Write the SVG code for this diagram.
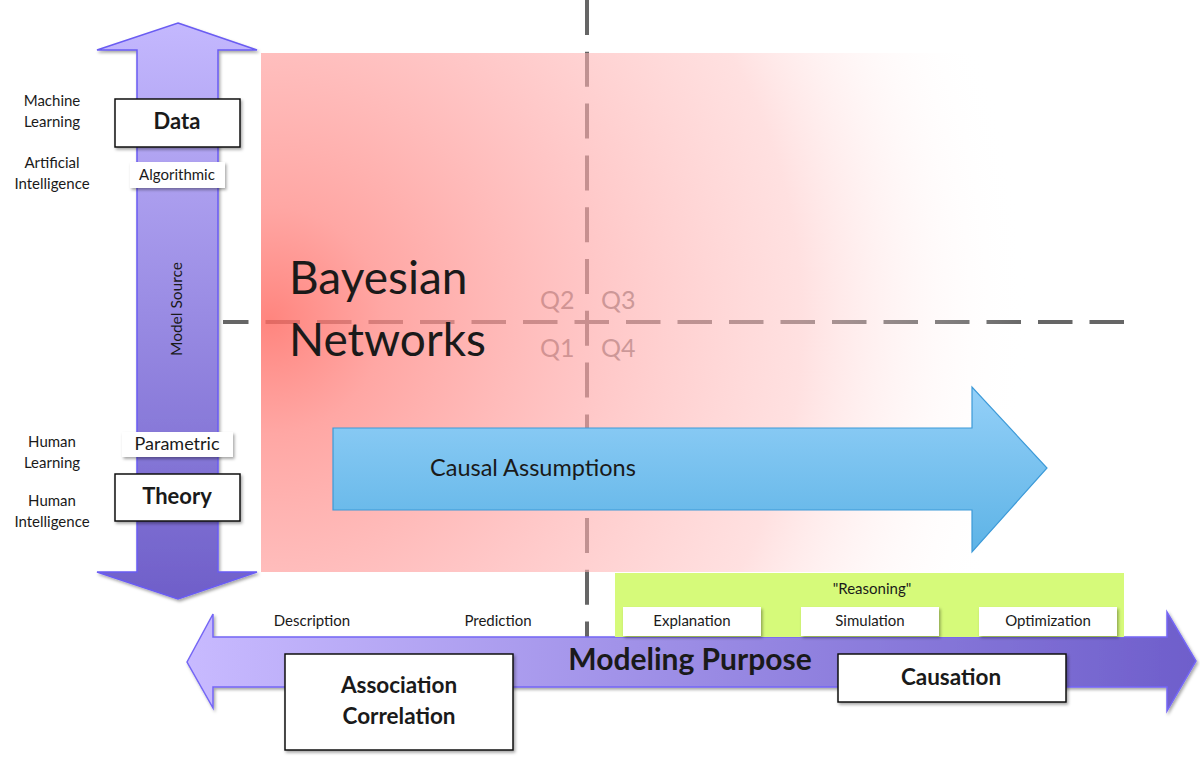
<svg xmlns="http://www.w3.org/2000/svg" width="1200" height="758" viewBox="0 0 1200 758">
<style>
text{font-family:"Lato","Noto Sans","Liberation Sans",sans-serif;fill:#1a1a1a}
.lbl{font-size:15px;text-anchor:middle}
.box{fill:#fff;stroke:#111;stroke-width:1.5}
.tag{fill:#fff}
.bold{font-weight:bold;text-anchor:middle}
.dash{stroke:#666;stroke-width:4;fill:none}
.q{font-size:25px;fill:#7a7a7a}
</style>
<defs>
<filter id="sh" x="-10%" y="-10%" width="130%" height="140%"><feDropShadow dx="1.5" dy="2" stdDeviation="1.5" flood-color="#000" flood-opacity="0.35"/></filter>
<radialGradient id="red" gradientUnits="userSpaceOnUse" cx="270" cy="320" r="760">
<stop offset="0" stop-color="#ff6a62" stop-opacity="0.82"/>
<stop offset="0.15" stop-color="#ff8884" stop-opacity="0.74"/>
<stop offset="0.42" stop-color="#ffa6a6" stop-opacity="0.64"/>
<stop offset="0.7" stop-color="#ffc2c2" stop-opacity="0.5"/>
<stop offset="1" stop-color="#ffffff" stop-opacity="0"/>
</radialGradient>
<linearGradient id="vgrad" x1="0" y1="0" x2="0" y2="1"><stop offset="0" stop-color="#c4b8fe"/><stop offset="1" stop-color="#6f5fc9"/></linearGradient>
<linearGradient id="hgrad" x1="0" y1="0" x2="1" y2="0"><stop offset="0" stop-color="#c8baff"/><stop offset="1" stop-color="#6e5ecb"/></linearGradient>
<linearGradient id="bgrad" x1="0" y1="0" x2="0" y2="1"><stop offset="0" stop-color="#94d0f8"/><stop offset="1" stop-color="#5db3e6"/></linearGradient>
</defs>

<g id="connectors">
<line class="dash" x1="587" y1="0" x2="587" y2="638" stroke-dasharray="35 16.8"/>
<line class="dash" x1="223" y1="322" x2="1126" y2="322" stroke-dasharray="34.5 17" stroke-dashoffset="9"/>
</g>

<g id="quadrants">
<text class="q" x="540" y="309">Q2</text>
<text class="q" x="601" y="309">Q3</text>
<text class="q" x="540" y="357">Q1</text>
<text class="q" x="601" y="357">Q4</text>
</g>

<g id="bayesian">
<rect x="261" y="53" width="800" height="519" fill="url(#red)"/>
<text x="289" y="294" style="font-size:46px">Bayesian</text>
<text x="289" y="356" style="font-size:46px">Networks</text>
</g>

<g id="model-source">
<path d="M178,23 L257,50 L218,50 L218,572 L257,572 L178,599 L97,572 L137,572 L137,50 L97,50 Z" fill="url(#vgrad)" stroke="#6a5cf2" stroke-width="1.5" filter="url(#sh)"/>
<text transform="translate(182,309) rotate(-90)" style="font-size:15.5px;text-anchor:middle">Model Source</text>
</g>

<g id="side-labels">
<text class="lbl" x="52" y="106">Machine</text>
<text class="lbl" x="52" y="127">Learning</text>
<text class="lbl" x="52" y="168">Artificial</text>
<text class="lbl" x="52" y="189">Intelligence</text>
<text class="lbl" x="52" y="447">Human</text>
<text class="lbl" x="52" y="468">Learning</text>
<text class="lbl" x="52" y="506">Human</text>
<text class="lbl" x="52" y="527">Intelligence</text>
</g>

<g id="data">
<rect class="box" x="115" y="99" width="125" height="48" filter="url(#sh)"/>
<text class="bold" x="177" y="129" style="font-size:22px">Data</text>
</g>
<g id="algorithmic">
<rect class="tag" x="130" y="162" width="95" height="26" filter="url(#sh)"/>
<text class="lbl" x="177" y="180">Algorithmic</text>
</g>
<g id="parametric">
<rect class="tag" x="122" y="432" width="111" height="25" filter="url(#sh)"/>
<text x="177" y="450" style="font-size:18px;text-anchor:middle">Parametric</text>
</g>
<g id="theory">
<rect class="box" x="115" y="474" width="125" height="47" filter="url(#sh)"/>
<text class="bold" x="177" y="504" style="font-size:22px">Theory</text>
</g>

<g id="causal">
<path d="M333,428 L972,428 L972,387 L1047,468 L972,552 L972,510 L333,510 Z" fill="url(#bgrad)" stroke="#3d9ad8" stroke-width="1.2"/>
<text x="430" y="476" style="font-size:23.5px">Causal Assumptions</text>
</g>

<g id="purpose">
<path d="M187,662 L213,614 L213,637 L1167,637 L1167,612 L1196,661 L1167,711 L1167,687 L213,687 L213,708 Z" fill="url(#hgrad)" stroke="#7466f5" stroke-width="1.5" filter="url(#sh)"/>
<text class="bold" x="690" y="670" style="font-size:30px">Modeling Purpose</text>
</g>

<g id="purpose-labels">
<text class="lbl" x="312" y="626">Description</text>
<text class="lbl" x="498" y="626">Prediction</text>
</g>

<g id="reasoning">
<rect x="615" y="573" width="509" height="64" fill="#d6fa7a"/>
<text class="lbl" x="872" y="594">"Reasoning"</text>
</g>
<g id="explanation">
<rect class="tag" x="623" y="607" width="138" height="29" filter="url(#sh)"/>
<text class="lbl" x="692" y="626">Explanation</text>
</g>
<g id="simulation">
<rect class="tag" x="801" y="607" width="138" height="29" filter="url(#sh)"/>
<text class="lbl" x="870" y="626">Simulation</text>
</g>
<g id="optimization">
<rect class="tag" x="979" y="607" width="138" height="29" filter="url(#sh)"/>
<text class="lbl" x="1048" y="626">Optimization</text>
</g>

<g id="association">
<rect class="box" x="285" y="654" width="228" height="96" filter="url(#sh)"/>
<text class="bold" x="399" y="693" style="font-size:22.5px">Association</text>
<text class="bold" x="399" y="724" style="font-size:22.5px">Correlation</text>
</g>
<g id="causation">
<rect class="box" x="838" y="654" width="228" height="48" filter="url(#sh)"/>
<text class="bold" x="951" y="685" style="font-size:22.5px">Causation</text>
</g>
</svg>
